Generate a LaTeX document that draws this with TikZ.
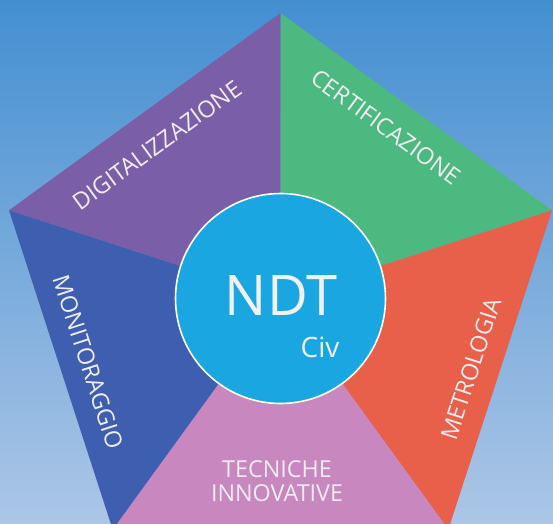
\documentclass[tikz,border=0pt]{standalone}
\usepackage{fontspec}
\setmainfont{Open Sans}
\tikzset{every picture/.style={line width=0.75pt}}
\tikzset{
  sector label/.style={inner sep=0.75pt, text={rgb,255:red,240;green,236;blue,242}, font=\fontsize{17.5}{17.5}\selectfont},
}
\begin{document}
\begin{tikzpicture}[x=0.75pt,y=0.75pt,yscale=-1,xscale=1]
\useasboundingbox (0,0) rectangle (553,524);
\clip (0,0) rectangle (553,524);

%Background
\shade [top color={rgb,255:red,68;green,143;blue,209}, bottom color={rgb,255:red,172;green,198;blue,230}] (0,0) rectangle (553,524);

%Pentagon corners
\coordinate (top) at (280.5,13);
\coordinate (left) at (9,210.3);
\coordinate (right) at (552,210.3);
\coordinate (botleft) at (112.7,529.5);
\coordinate (botright) at (448.3,529.5);
\coordinate (mid) at (280.5,298.5);

%Triangle: digitalizzazione
\fill [color={rgb,255:red,122;green,94;blue,168}] (top) -- (left) -- (mid) -- cycle ;
%Triangle: certificazione
\fill [color={rgb,255:red,76;green,185;blue,128}] (top) -- (right) -- (mid) -- cycle ;
%Triangle: metrologia
\fill [color={rgb,255:red,232;green,95;blue,74}] (right) -- (botright) -- (mid) -- cycle ;
%Triangle: tecniche innovative
\fill [color={rgb,255:red,200;green,135;blue,190}] (botright) -- (botleft) -- (mid) -- cycle ;
%Triangle: monitoraggio
\fill [color={rgb,255:red,62;green,94;blue,175}] (botleft) -- (left) -- (mid) -- cycle ;

%Circle
\draw [color=white, line width=1.2, fill={rgb,255:red,26;green,167;blue,225}] (mid) circle [radius=105] ;

% Text Node
\draw (281,296) node (ndt) [inner sep=0.75pt, text={rgb,255:red,240;green,240;blue,245}, font=\fontsize{42}{42}\selectfont] {NDT};
% Text Node
\draw (320,347) node (civ) [inner sep=0.75pt, text={rgb,255:red,240;green,240;blue,245}, font=\fontsize{21}{21}\selectfont] {Civ};
% Text Node
\draw (157,145) node (digit) [sector label, rotate=36] {DIGITALIZZAZIONE};
% Text Node
\draw (386,127) node (certif) [sector label, rotate=-36] {CERTIFICAZIONE};
% Text Node
\draw (471,369) node (metro) [sector label, rotate=72] {METROLOGIA};
% Text Node
\draw (88,362) node (monit) [sector label, rotate=-72] {MONITORAGGIO};
% Text Node
\draw (277,481) node (tecn) [sector label, align=center] {TECNICHE\\INNOVATIVE};

\end{tikzpicture}
\end{document}
